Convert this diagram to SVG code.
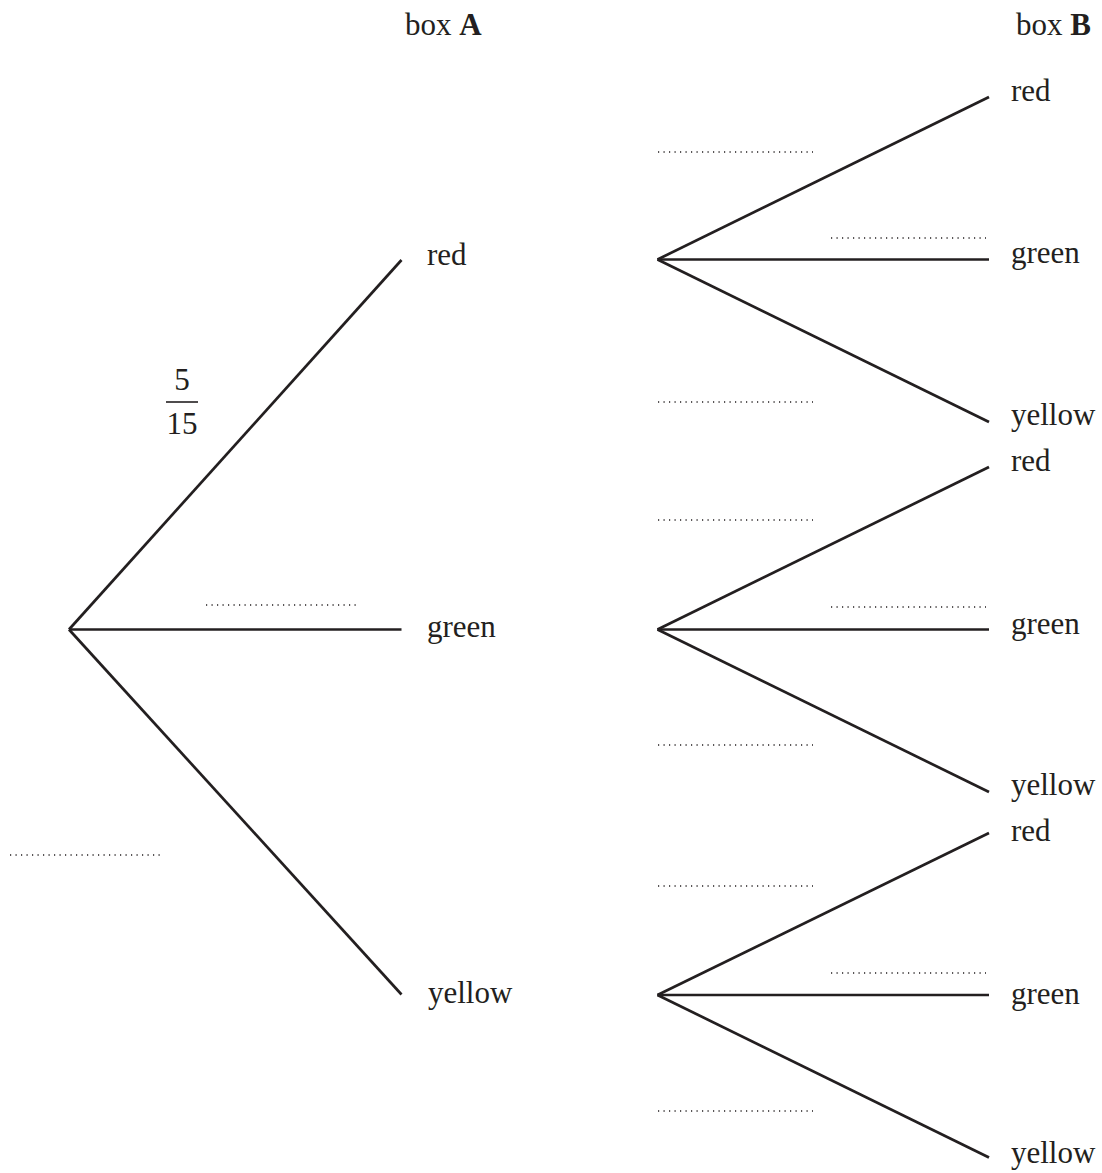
<svg xmlns="http://www.w3.org/2000/svg" width="1102" height="1173" viewBox="0 0 1102 1173">
<style>
  text { font-family: "Liberation Serif", "Times New Roman", serif; font-size: 31px; fill: #231f20; }
  .b { font-weight: bold; }
  .br { stroke: #231f20; stroke-width: 2.7; fill: none; stroke-linecap: butt; }
  .dot { stroke: #231f20; stroke-width: 1.3; stroke-dasharray: 1.2 4.3; fill: none; }
</style>
<rect width="1102" height="1173" fill="#ffffff"/>
<g id="headers">
  <text x="405" y="35">box <tspan class="b">A</tspan></text>
  <text x="1016" y="35">box <tspan class="b">B</tspan></text>
</g>
<g id="connectors">
  <line class="br" x1="69" y1="629.5" x2="401.5" y2="260"/>
  <line class="br" x1="69" y1="629.5" x2="401.5" y2="629.5"/>
  <line class="br" x1="69" y1="629.5" x2="401.5" y2="994.5"/>
  <line class="br" x1="657.5" y1="259.5" x2="989" y2="97"/>
  <line class="br" x1="657.5" y1="259.5" x2="989" y2="259.5"/>
  <line class="br" x1="657.5" y1="259.5" x2="989" y2="422"/>
  <line class="br" x1="657.5" y1="629.5" x2="989" y2="467"/>
  <line class="br" x1="657.5" y1="629.5" x2="989" y2="629.5"/>
  <line class="br" x1="657.5" y1="629.5" x2="989" y2="792"/>
  <line class="br" x1="657.5" y1="995" x2="989" y2="833"/>
  <line class="br" x1="657.5" y1="995" x2="989" y2="995"/>
  <line class="br" x1="657.5" y1="995" x2="989" y2="1157.5"/>
</g>
<g id="answer-lines">
  <line class="dot" x1="206" y1="605" x2="360" y2="605"/>
  <line class="dot" x1="10" y1="855" x2="164" y2="855"/>
  <line class="dot" x1="658" y1="152" x2="813" y2="152"/>
  <line class="dot" x1="831" y1="238" x2="986" y2="238"/>
  <line class="dot" x1="658" y1="402" x2="813" y2="402"/>
  <line class="dot" x1="658" y1="520" x2="813" y2="520"/>
  <line class="dot" x1="831" y1="607" x2="986" y2="607"/>
  <line class="dot" x1="658" y1="745" x2="813" y2="745"/>
  <line class="dot" x1="658" y1="886" x2="813" y2="886"/>
  <line class="dot" x1="831" y1="973" x2="986" y2="973"/>
  <line class="dot" x1="658" y1="1111" x2="813" y2="1111"/>
</g>
<g id="fraction">
  <text x="182" y="390" text-anchor="middle">5</text>
  <line x1="166" y1="402" x2="198" y2="402" stroke="#231f20" stroke-width="1.6"/>
  <text x="182" y="434" text-anchor="middle">15</text>
</g>
<g id="a-red"><text x="427" y="265">red</text></g>
<g id="a-green"><text x="427" y="637">green</text></g>
<g id="a-yellow"><text x="428" y="1003">yellow</text></g>
<g id="b1-red"><text x="1011" y="101">red</text></g>
<g id="b1-green"><text x="1011" y="263">green</text></g>
<g id="b1-yellow"><text x="1011" y="425">yellow</text></g>
<g id="b2-red"><text x="1011" y="471">red</text></g>
<g id="b2-green"><text x="1011" y="634">green</text></g>
<g id="b2-yellow"><text x="1011" y="795">yellow</text></g>
<g id="b3-red"><text x="1011" y="841">red</text></g>
<g id="b3-green"><text x="1011" y="1004">green</text></g>
<g id="b3-yellow"><text x="1011" y="1163">yellow</text></g>
</svg>
